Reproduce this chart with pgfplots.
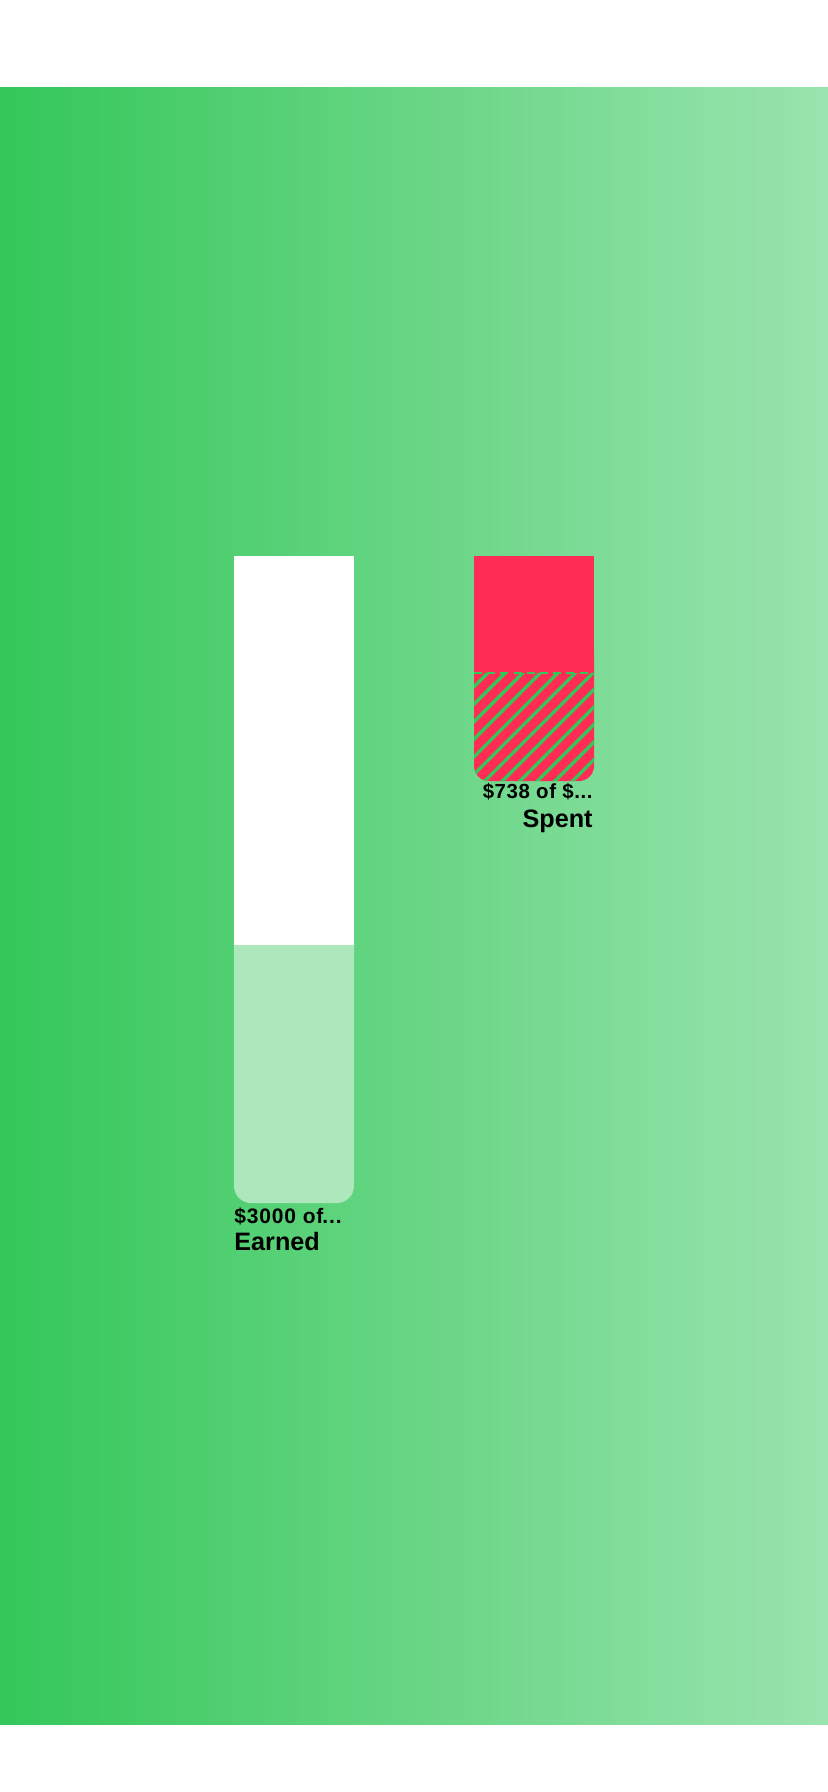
\documentclass[border=0pt]{standalone}
\usepackage{pgfplots}
\pgfplotsset{compat=1.18}
\usetikzlibrary{patterns.meta}
\usepackage{fontspec}
\setmainfont{Liberation Sans}
\definecolor{gL}{HTML}{34C759}
\definecolor{gR}{HTML}{9AE4AF}
\definecolor{lightg}{HTML}{ACE8BC}
\definecolor{red}{HTML}{FF2D55}
\begin{document}
\begin{tikzpicture}
\begin{axis}[
  scale only axis, width=414pt, height=896pt,
  xmin=0, xmax=828, ymin=0, ymax=1792, y dir=reverse,
  hide axis, clip=false]
% background
\fill[white] (axis cs:0,0) rectangle (axis cs:828,1792);
\fill[left color=gL, right color=gR] (axis cs:0,88) rectangle (axis cs:828,1724);
% Earned bar: white = remaining goal, light green = earned
\addplot[fill=lightg, draw=none, rounded corners=8.5pt] coordinates {(234,900) (354,900) (354,1203) (234,1203)} -- cycle;
\addplot[fill=white, draw=none] coordinates {(234,556) (354,556) (354,945) (234,945)} -- cycle;
% Spent bar
\addplot[fill=red, draw=none, rounded corners=7.5pt,
  postaction={pattern={Lines[angle=45, distance=6.2pt, line width=1.65pt]}, pattern color=gL}]
  coordinates {(474,640) (594,640) (594,781) (474,781)} -- cycle;
\addplot[fill=red, draw=none] coordinates {(474,556) (594,556) (594,673) (474,673)} -- cycle;
\addplot[gL, line width=1.2pt, dash pattern=on 4pt off 2.6pt] coordinates {(474,673) (594,673)};
% labels
\node[anchor=base west, inner sep=0pt, font=\bfseries\fontsize{10.5}{12}\selectfont] at (axis cs:234,1223) {\addfontfeature{LetterSpace=4}\$3000 of\kern-0.5pt...};
\node[anchor=base west, inner sep=0pt, font=\bfseries\fontsize{12.6}{14}\selectfont] at (axis cs:234,1250) {Earned};
\node[anchor=base east, inner sep=0pt, font=\bfseries\fontsize{10.2}{12}\selectfont] at (axis cs:593,798) {\addfontfeature{LetterSpace=3}\$738 of \$...};
\node[anchor=base east, inner sep=0pt, font=\bfseries\fontsize{12.6}{14}\selectfont] at (axis cs:593,827) {Spent};
\end{axis}
\end{tikzpicture}
\end{document}
